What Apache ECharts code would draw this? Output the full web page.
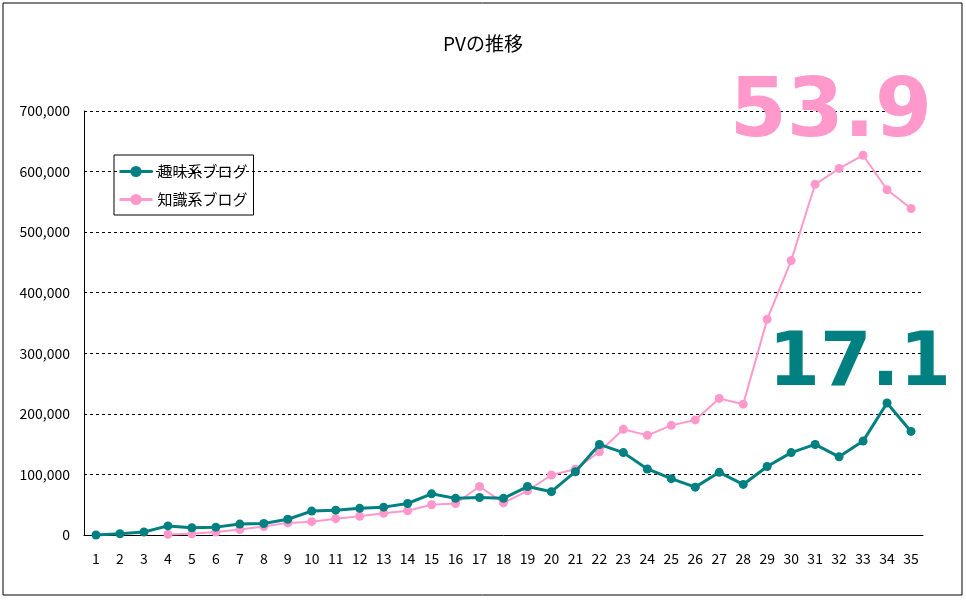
<!DOCTYPE html>
<html>
<head>
<meta charset="utf-8">
<script src="https://cdn.jsdelivr.net/npm/echarts@6/dist/echarts.min.js"></script>
<style>
  html, body { margin: 0; padding: 0; background: #fff; }
  #chart { width: 966px; height: 600px; }
</style>
</head>
<body>
<div id="chart"></div>
<script>
//  横軸（月）
const months = [];
for (let i = 1; i <= 35; i++) months.push(String(i));

//  趣味系ブログ
const hobbyPV = [
  0, 2000, 5000, 15000, 12000, 13000, 18000, 19000, 26000, 39500,
  41000, 44000, 46000, 52000, 68000, 60500, 62000, 60500, 80000, 71500,
  104500, 149500, 136000, 109000, 93000, 79000, 103500, 83500, 113000, 136000,
  149500, 129000, 155000, 218000, 171000
];

//  知識系ブログ（4か月目から）
const knowledgePV = [
  null, null, null, 1000, 2000, 5000, 9000, 14000, 20000, 22000,
  27000, 31000, 36000, 40000, 50000, 52000, 80000, 53000, 73000, 99000,
  108500, 137500, 174500, 164500, 181000, 190000, 225500, 216000, 356000, 453000,
  579000, 605000, 627000, 570000, 539000
];

const seriesNames = ['趣味系ブログ', '知識系ブログ'];
const seriesColors = ['#008080', '#FF99CC'];
//  右側の大きい数字
const bigLabels = ['53.9', '17.1'];

const FONT = '"Noto Sans CJK JP", sans-serif';

const myChart = echarts.init(document.getElementById('chart'));
myChart.setOption({
  backgroundColor: '#fff',
  animation: false,
  title: {
    text: 'PVの推移',
    left: 'center',
    top: 29,
    textStyle: { fontFamily: FONT, fontSize: 19, fontWeight: 'normal', color: '#000' }
  },
  legend: {
    orient: 'vertical',
    left: 114,
    top: 155,
    itemWidth: 33,
    itemHeight: 14,
    itemGap: 13,
    padding: [9, 6, 8, 4],
    borderColor: '#000',
    borderWidth: 1,
    lineStyle: { width: 3 },
    textStyle: { fontFamily: FONT, fontSize: 15, color: '#000' },
    data: seriesNames
  },
  grid: { left: 84, right: 43, top: 111, bottom: 65, containLabel: false },
  xAxis: {
    type: 'category',
    data: months,
    boundaryGap: true,
    axisLine: { lineStyle: { color: '#000', width: 1 } },
    axisTick: { inside: true, length: 4, lineStyle: { color: '#000' } },
    axisLabel: { fontFamily: FONT, fontSize: 14, color: '#000', margin: 17 }
  },
  yAxis: {
    type: 'value',
    min: 0,
    max: 700000,
    interval: 100000,
    axisLine: { show: true, lineStyle: { color: '#000', width: 1 } },
    axisTick: { show: false },
    axisLabel: {
      fontFamily: FONT, fontSize: 14, color: '#000', margin: 14,
      formatter: function (v) { return v.toLocaleString('en-US'); }
    },
    splitLine: { lineStyle: { color: '#000', type: [3, 3], width: 1 } }
  },
  series: [{
    name: seriesNames[0],
    type: 'line',
    data: hobbyPV,
    color: seriesColors[0],
    symbol: 'circle',
    symbolSize: 9,
    lineStyle: { width: 3 },
    z: 3
  }, {
    name: seriesNames[1],
    type: 'line',
    data: knowledgePV,
    color: seriesColors[1],
    symbol: 'circle',
    symbolSize: 9,
    lineStyle: { width: 2 },
    z: 2
  }],
  graphic: [{
    type: 'rect',
    shape: { x: 3, y: 3, width: 959, height: 592 },
    style: { fill: null, stroke: '#000', lineWidth: 1 },
    silent: true
  }, {
    type: 'text',
    x: 932, y: 115,
    style: {
      text: bigLabels[0], fill: seriesColors[1],
      font: '900 82px "DejaVu Sans", sans-serif',
      align: 'right', verticalAlign: 'middle'
    },
    z: 10
  }, {
    type: 'text',
    x: 951, y: 366,
    style: {
      text: bigLabels[1], fill: seriesColors[0],
      font: '900 74px "DejaVu Sans", sans-serif',
      align: 'right', verticalAlign: 'middle'
    },
    z: 10
  }]
});
</script>
</body>
</html>
